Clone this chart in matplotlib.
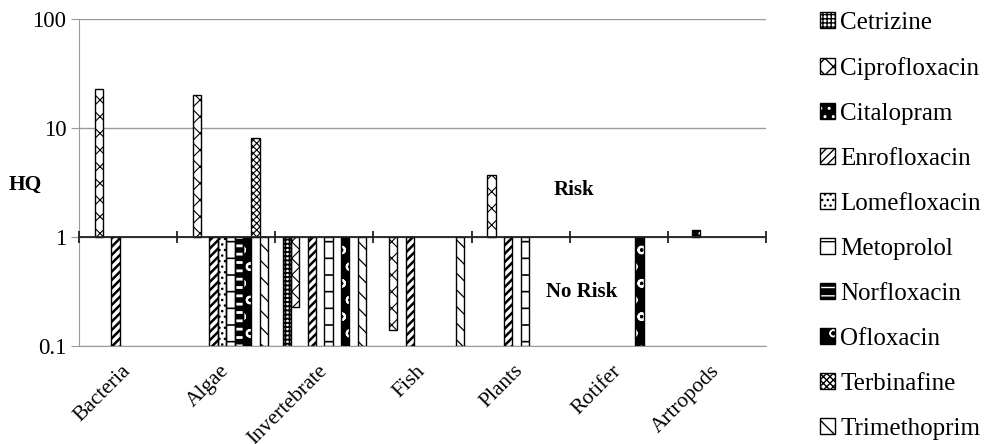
import numpy as np
import matplotlib as mpl
from matplotlib import pyplot as plt
from matplotlib.patches import Patch
from matplotlib.legend_handler import HandlerTuple

plt.rcParams['font.family'] = ['Liberation Serif', 'DejaVu Serif']

# hazard quotients per trophic group (bars start at HQ = 1)
groups = ['Bacteria', 'Algae', 'Invertebrate', 'Fish', 'Plants', 'Rotifer', 'Artropods']
drugs = ['Cetrizine', 'Ciprofloxacin', 'Citalopram', 'Enrofloxacin', 'Lomefloxacin',
         'Metoprolol', 'Norfloxacin', 'Ofloxacin', 'Terbinafine', 'Trimethoprim']
cetrizine     = [None, None, 0.1,  None, None, None, None]
ciprofloxacin = [22.6, 20.0, 0.23, 0.14, 3.7,  None, None]
citalopram    = [None, None, None, None, None, None, 1.17]
enrofloxacin  = [0.1,  0.1,  0.1,  0.1,  0.1,  None, None]
lomefloxacin  = [None, 0.1,  None, None, None, None, None]
metoprolol    = [None, 0.1,  0.1,  None, 0.1,  None, None]
norfloxacin   = [None, 0.1,  None, None, None, None, None]
ofloxacin     = [None, 0.1,  0.1,  None, None, 0.1,  None]
terbinafine   = [None, 8.1,  None, None, None, None, None]
trimethoprim  = [None, 0.1,  0.1,  0.1,  None, None, None]
series = [cetrizine, ciprofloxacin, citalopram, enrofloxacin, lomefloxacin,
          metoprolol, norfloxacin, ofloxacin, terbinafine, trimethoprim]

# (face colour, hatch colour, hatch, hatch linewidth)
styles = [
    ('white', 'black', '++++', 1.3),
    ('white', 'black', 'xx', 0.8),
    ('black', 'white', '..', 1.0),
    ('white', 'black', '////', 1.8),
    ('white', 'black', '...', 1.0),
    ('white', 'black', '-', 1.2),
    ('black', 'white', '--', 2.0),
    ('black', 'white', 'o', 1.5),
    ('white', 'black', 'xxxxx', 0.8),
    ('white', 'black', '\\\\', 0.9),
]

fig = plt.figure(figsize=(9.87, 4.44), dpi=100)
ax = fig.add_axes([0.080, 0.2207, 0.696, 0.7365])

w = 0.0851
x = np.arange(len(groups))
for k, vals in enumerate(series):
    fc, hc, hatch, hlw = styles[k]
    for i, v in enumerate(vals):
        if v is None:
            continue
        with mpl.rc_context({'hatch.linewidth': hlw}):
            ax.bar(x[i] + (k - 4.5) * w, v - 1, bottom=1, width=w,
                   color=fc, edgecolor=hc, hatch=hatch, linewidth=0, zorder=3)
        ax.bar(x[i] + (k - 4.5) * w, v - 1, bottom=1, width=w,
               fill=False, edgecolor='black', linewidth=1.0, zorder=4)

ax.set_yscale('log')
ax.set_ylim(0.1, 100)
ax.set_xlim(-0.5, len(groups) - 0.5)
ax.set_yticks([0.1, 1, 10, 100])
ax.set_yticklabels(['0.1', '1', '10', '100'])
ax.yaxis.set_minor_locator(mpl.ticker.NullLocator())
ax.tick_params(axis='y', length=6, color='#9a9a9a', labelsize=16.5, pad=3)
ax.grid(axis='y', color='#9a9a9a', linewidth=1.0, zorder=0)
ax.set_xticks(x)
ax.set_xticklabels(groups, rotation=45, ha='right', va='center', rotation_mode='anchor')
ax.tick_params(axis='x', length=0, labelsize=15.5, pad=16)
for s in ['top', 'right']:
    ax.spines[s].set_visible(False)
for s in ['left', 'bottom']:
    ax.spines[s].set_color('#9a9a9a')

# category axis crosses at HQ = 1
ax.axhline(1, color='#222222', linewidth=1.3, zorder=5)
bounds = np.arange(len(groups) + 1) - 0.5
ax.plot(bounds, np.ones_like(bounds), linestyle='none', marker='|',
        markersize=8, markeredgewidth=1.3, color='#222222', zorder=5, clip_on=False)

ax.text(0.72, 0.477, 'Risk', transform=ax.transAxes, fontsize=15,
        fontweight='bold', ha='center', va='center')
ax.text(0.732, 0.165, 'No Risk', transform=ax.transAxes, fontsize=15,
        fontweight='bold', ha='center', va='center')
fig.text(0.0253, 0.583, 'HQ', fontsize=15.5, fontweight='bold', ha='center', va='center')

# legend swatches: hatched fill with a black outline on top
handles = []
for k, name in enumerate(drugs):
    fc, hc, hatch, hlw = styles[k]
    handles.append((Patch(facecolor=fc, edgecolor=hc, hatch=hatch, linewidth=0),
                    Patch(fill=False, edgecolor='black', linewidth=1.0)))
fig.legend(handles=handles, labels=drugs, loc='upper left', bbox_to_anchor=(0.826, 0.985),
           frameon=False, fontsize=18, handlelength=0.6, handleheight=0.6,
           handletextpad=0.2, labelspacing=0.92, borderpad=0.2, borderaxespad=0,
           handler_map={tuple: HandlerTuple(ndivide=1)})

fig.savefig('out.png', dpi=100)
